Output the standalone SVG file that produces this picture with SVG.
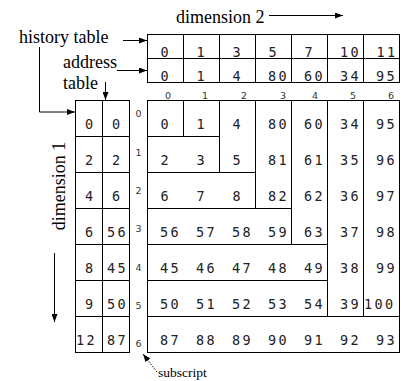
<svg xmlns="http://www.w3.org/2000/svg" width="401" height="381" viewBox="0 0 401 381">
  <style>
    .lbl { font-family: "Liberation Serif", "Times New Roman", serif; font-size: 18px; fill: #000; }
    .sml { font-family: "Liberation Serif", "Times New Roman", serif; font-size: 13.5px; fill: #000; }
    .num { font-family: "DejaVu Sans Mono", "Liberation Mono", monospace; font-size: 13.5px; letter-spacing: 2.4px; fill: #222; }
    .sub { font-family: "DejaVu Sans", "Liberation Sans", sans-serif; font-size: 9.5px; fill: #333; text-anchor: middle; }
    .box { fill: #fff; stroke: #000; stroke-width: 1; }
    .ln { fill: none; stroke: #000; stroke-width: 1; }
    .dot { fill: none; stroke: #000; stroke-width: 1; stroke-dasharray: 1.5 1.5; }
  </style>
  <defs>
    <marker id="ah" viewBox="0 0 8 6" refX="8" refY="3" markerWidth="8" markerHeight="6" markerUnits="userSpaceOnUse" orient="auto">
      <path d="M0,0 L8,3 L0,6 Z" fill="#000"/>
    </marker>
  </defs>

  <rect width="401" height="381" fill="#fff"/>

  <!-- history table of dimension 2 -->
  <g id="history-dim2">
    <rect class="box" x="147.5" y="34.5" width="252" height="24"/>
    <path class="ln" d="M183.5,34.5V58.5M219.5,34.5V58.5M255.5,34.5V58.5M291.5,34.5V58.5M327.5,34.5V58.5M363.5,34.5V58.5"/>
    <text class="num" y="56.5"><tspan x="160.5">0</tspan><tspan x="196.5">1</tspan><tspan x="232.5">3</tspan><tspan x="268.5">5</tspan><tspan x="304.5">7</tspan><tspan x="340">10</tspan><tspan x="376.5">11</tspan></text>
  </g>

  <!-- address table of dimension 2 -->
  <g id="address-dim2">
    <rect class="box" x="147.5" y="58.5" width="252" height="24"/>
    <path class="ln" d="M183.5,58.5V82.5M219.5,58.5V82.5M255.5,58.5V82.5M291.5,58.5V82.5M327.5,58.5V82.5M363.5,58.5V82.5"/>
    <text class="num" y="80.5"><tspan x="160.5">0</tspan><tspan x="196.5">1</tspan><tspan x="232.5">4</tspan><tspan x="268">80</tspan><tspan x="304">60</tspan><tspan x="340">34</tspan><tspan x="376">95</tspan></text>
  </g>

  <!-- history table of dimension 1 -->
  <g id="history-dim1">
    <rect class="box" x="75.5" y="100.5" width="27" height="252"/>
    <path class="ln" d="M75.5,136.5H102.5M75.5,172.5H102.5M75.5,208.5H102.5M75.5,244.5H102.5M75.5,280.5H102.5M75.5,316.5H102.5"/>
    <text class="num"><tspan x="85" y="129">0</tspan><tspan x="85" y="165">2</tspan><tspan x="85" y="201">4</tspan><tspan x="85" y="237">6</tspan><tspan x="85" y="273">8</tspan><tspan x="85" y="309">9</tspan><tspan x="76" y="345">12</tspan></text>
  </g>

  <!-- address table of dimension 1 -->
  <g id="address-dim1">
    <rect class="box" x="102.5" y="100.5" width="27" height="252"/>
    <path class="ln" d="M102.5,136.5H129.5M102.5,172.5H129.5M102.5,208.5H129.5M102.5,244.5H129.5M102.5,280.5H129.5M102.5,316.5H129.5"/>
    <text class="num"><tspan x="112" y="129">0</tspan><tspan x="112" y="165">2</tspan><tspan x="112" y="201">6</tspan><tspan x="107" y="237">56</tspan><tspan x="107" y="273">45</tspan><tspan x="107" y="309">50</tspan><tspan x="107" y="345">87</tspan></text>
  </g>

  <!-- extendible array body with its sub-array boundaries -->
  <g id="array">
    <rect class="box" x="147.5" y="100.5" width="252" height="252"/>
    <path class="ln" d="M183.5,100.5V136.5 M147.5,136.5H219.5 M219.5,100.5V172.5 M147.5,172.5H255.5 M255.5,100.5V208.5 M147.5,208.5H291.5 M291.5,100.5V244.5 M147.5,244.5H327.5 M327.5,100.5V316.5 M147.5,280.5H327.5 M363.5,100.5V316.5 M147.5,316.5H399.5"/>
    <text class="num" y="129"><tspan x="160.5">0</tspan><tspan x="196.5">1</tspan><tspan x="232.5">4</tspan><tspan x="268">80</tspan><tspan x="304">60</tspan><tspan x="340">34</tspan><tspan x="376">95</tspan></text>
    <text class="num" y="165"><tspan x="160.5">2</tspan><tspan x="196.5">3</tspan><tspan x="232.5">5</tspan><tspan x="268">81</tspan><tspan x="304">61</tspan><tspan x="340">35</tspan><tspan x="376">96</tspan></text>
    <text class="num" y="201"><tspan x="160.5">6</tspan><tspan x="196.5">7</tspan><tspan x="232.5">8</tspan><tspan x="268">82</tspan><tspan x="304">62</tspan><tspan x="340">36</tspan><tspan x="376">97</tspan></text>
    <text class="num" y="237"><tspan x="160">56</tspan><tspan x="196">57</tspan><tspan x="232">58</tspan><tspan x="268">59</tspan><tspan x="304">63</tspan><tspan x="340">37</tspan><tspan x="376">98</tspan></text>
    <text class="num" y="273"><tspan x="160">45</tspan><tspan x="196">46</tspan><tspan x="232">47</tspan><tspan x="268">48</tspan><tspan x="304">49</tspan><tspan x="340">38</tspan><tspan x="376">99</tspan></text>
    <text class="num" y="309"><tspan x="160">50</tspan><tspan x="196">51</tspan><tspan x="232">52</tspan><tspan x="268">53</tspan><tspan x="304">54</tspan><tspan x="340">39</tspan><tspan x="364">100</tspan></text>
    <text class="num" y="345"><tspan x="160">87</tspan><tspan x="196">88</tspan><tspan x="232">89</tspan><tspan x="268">90</tspan><tspan x="304">91</tspan><tspan x="340">92</tspan><tspan x="376">93</tspan></text>
  </g>

  <!-- subscripts -->
  <g id="subscripts">
    <text class="sub" y="99"><tspan x="168">0</tspan><tspan x="205">1</tspan><tspan x="244">2</tspan><tspan x="283">3</tspan><tspan x="315">4</tspan><tspan x="353">5</tspan><tspan x="391">6</tspan></text>
    <text class="sub"><tspan x="138.5" y="117">0</tspan><tspan x="138.5" y="155.5">1</tspan><tspan x="138.5" y="194">2</tspan><tspan x="138.5" y="232">3</tspan><tspan x="138.5" y="270.5">4</tspan><tspan x="138.5" y="308.5">5</tspan><tspan x="138.5" y="347">6</tspan></text>
  </g>

  <!-- labels -->
  <g id="labels">
    <text class="lbl" x="176" y="23">dimension 2</text>
    <text class="lbl" x="19" y="43">history table</text>
    <text class="lbl" x="63" y="68">address</text>
    <text class="lbl" x="63" y="89">table</text>
    <text class="lbl" text-anchor="middle" transform="translate(65,186) rotate(-90)">dimension 1</text>
    <text class="sml" x="158" y="377">subscript</text>
  </g>

  <!-- connectors -->
  <g id="connectors">
    <path class="ln" d="M269,15.5H343" marker-end="url(#ah)"/>
    <path class="ln" d="M123,40.5H147" marker-end="url(#ah)"/>
    <path class="ln" d="M117,70.5H147" marker-end="url(#ah)"/>
    <path class="ln" d="M105.5,82V100" marker-end="url(#ah)"/>
    <path class="ln" d="M39.5,47V112H75" marker-end="url(#ah)"/>
    <path class="ln" d="M54.5,253V322" marker-end="url(#ah)"/>
    <path class="dot" d="M157,372L143,354" marker-end="url(#ah)"/>
  </g>
</svg>
